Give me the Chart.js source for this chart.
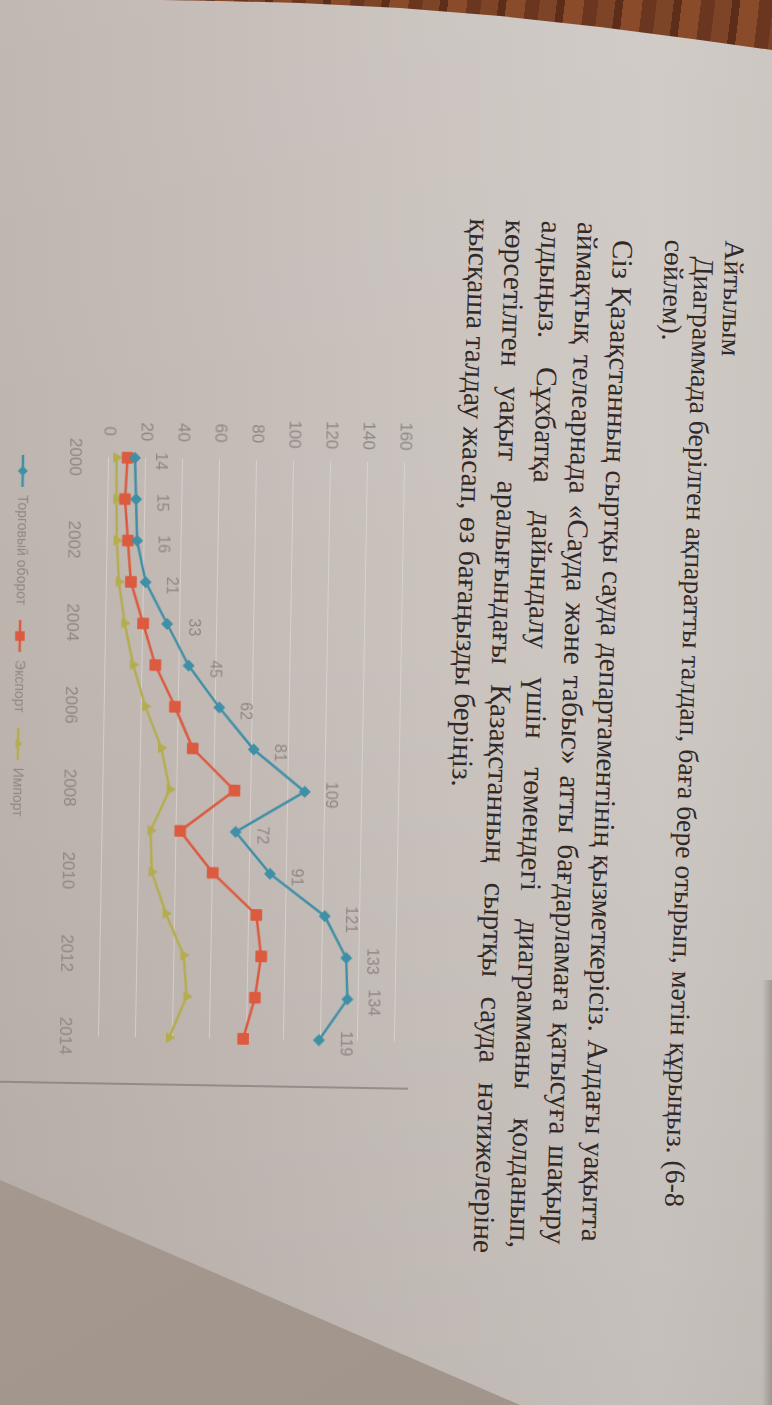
<!DOCTYPE html>
<html>
<head>
<meta charset="utf-8">
<script src="https://cdn.jsdelivr.net/npm/chart.js@4.4.1/dist/chart.umd.min.js"></script>
<style>
html,body{margin:0;padding:0;}
body{width:772px;height:1405px;overflow:hidden;position:relative;
  background:
    linear-gradient(180deg, rgba(255,255,255,0.05) 0%, rgba(0,0,0,0) 45%, rgba(0,0,0,0.05) 100%),
    linear-gradient(90deg,#bdb4ae 0%,#c4bbb6 30%,#cac3be 60%,#cfc9c5 85%,#cac4bf 100%);}
#wood{position:absolute;left:0;top:0;width:772px;height:60px;
  background:repeating-linear-gradient(97deg,#6a3620 0 14px,#7e4427 14px 31px,#5c2e1a 31px 39px,#8a4b2b 39px 58px);
  clip-path:polygon(160px 0,772px 0,772px 50px,700px 40px,600px 27px,500px 16px,400px 8px,300px 3px,220px 1px);}
#shadow{position:absolute;left:0;top:0;width:772px;height:1405px;
  background:linear-gradient(150deg,#aa9e95 0%,#a0948b 100%);
  clip-path:polygon(0 1180px,520px 1405px,0 1405px);}
#redge{position:absolute;left:762px;top:980px;width:10px;height:425px;
  background:linear-gradient(90deg,rgba(0,0,0,0),rgba(90,80,75,0.35));}
#text{position:absolute;left:746px;top:222px;width:1060px;height:300px;
  transform-origin:0 0;transform:rotate(91.8deg);
  font-family:"Liberation Serif","DejaVu Serif",serif;color:#302927;}
.ln{position:absolute;white-space:nowrap;}
.j{white-space:normal;text-align:justify;text-align-last:justify;}
#chartBox{position:absolute;left:428px;top:405px;width:684px;height:421px;
  transform-origin:0 0;transform:rotate(91deg);}
#frame{position:absolute;left:683px;top:8px;width:1.5px;height:418px;background:rgba(115,105,99,0.55);}
</style>
</head>
<body>
<div id="wood"></div>
<div id="shadow"></div>
<div id="redge"></div>
<div id="text"></div>
<div id="chartBox"><canvas id="c" width="684" height="421"></canvas><div id="frame"></div></div>
<script>
// ---- data ----
const years = ['2000','2001','2002','2003','2004','2005','2006','2007','2008','2009','2010','2011','2012','2013','2014'];
const turnover = [14, 15, 16, 21, 33, 45, 62, 81, 109, 72, 91, 121, 133, 134, 119];
const exportVals = [10, 9, 11, 13, 20, 27, 38, 48, 71, 42, 60, 84, 87, 84, 78];
const importVals = [4, 4.5, 5, 6.5, 10, 15, 22, 31, 36, 26, 27, 35, 45, 47, 38];
const seriesNames = ['Торговый оборот', 'Экспорт', 'Импорт'];
const yTicks = [0, 20, 40, 60, 80, 100, 120, 140, 160];

const textLines = [
  {t:'Айтылым', u:19, vc:11, lh:30, grp:1},
  {t:'Диаграммада берілген ақпаратты талдап, баға бере отырып, мәтін құрыңыз. (6-8', u:36, vc:41, lh:30, grp:1, fit:951},
  {t:'сөйлем).', u:20, vc:71, lh:30, grp:1},
  {t:'Сіз Қазақстанның сыртқы сауда департаментінің қызметкерісіз. Алдағы уақытта', u:5, vc:122, lh:36, grp:2, w:1019, indent:17},
  {t:'аймақтық телеарнада «Сауда және табыс» атты бағдарламаға қатысуға шақыру', u:5, vc:158, lh:36, grp:2, w:1023},
  {t:'алдыңыз. Сұхбатқа дайындалу үшін төмендегі диаграмманы қолданып,', u:5, vc:194, lh:36, grp:2, w:1028},
  {t:'көрсетілген уақыт аралығындағы Қазақстанның сыртқы сауда нәтижелеріне', u:5, vc:230, lh:36, grp:2, w:1034},
  {t:'қысқаша талдау жасап, өз бағаңызды беріңіз.', u:5, vc:266, lh:36, grp:2, fit:569}
];

// ---- text block ----
(function(){
  const mc = document.createElement('canvas').getContext('2d');
  const fam = '"Liberation Serif","DejaVu Serif",serif';
  function w(text, size){ mc.font = size + 'px ' + fam; return mc.measureText(text).width; }
  const sizes = {};
  textLines.forEach(l => { if (l.fit) sizes[l.grp] = 26 * l.fit / w(l.t, 26); });
  const box = document.getElementById('text');
  textLines.forEach(l => {
    const d = document.createElement('div');
    d.className = 'ln' + (l.w ? ' j' : '');
    let s = sizes[l.grp];
    if (l.w) {
      const nat = w(l.t, s) + (l.indent || 0);
      if (nat > l.w - 4) s = s * (l.w - 4) / nat;
      d.style.width = l.w + 'px';
      if (l.indent) d.style.textIndent = l.indent + 'px';
    }
    d.style.fontSize = s.toFixed(2) + 'px';
    d.style.left = l.u + 'px';
    d.style.top = (l.vc - l.lh / 2) + 'px';
    d.style.lineHeight = l.lh + 'px';
    d.style.height = l.lh + 'px';
    d.textContent = l.t;
    box.appendChild(d);
  });
})();

// ---- chart ----
const colors = ['#3f8fa6', '#dc5a3f', '#b4ad4f'];
const markers = ['rectRot', 'rect', 'triangle'];
const radii = [5.5, 7.5, 5.5];
const labelColor = '#8f8782';
const fontFam = '"Liberation Sans", Arial, sans-serif';

function makeIcon(i){
  const c = document.createElement('canvas');
  c.width = 34; c.height = 16;
  const g = c.getContext('2d');
  g.strokeStyle = colors[i]; g.fillStyle = colors[i]; g.lineWidth = 2.5;
  g.beginPath(); g.moveTo(1, 8); g.lineTo(33, 8); g.stroke();
  const x = 17, y = 8, r = radii[i] * 0.9;
  g.beginPath();
  if (markers[i] === 'rectRot') { g.moveTo(x, y - r); g.lineTo(x + r, y); g.lineTo(x, y + r); g.lineTo(x - r, y); }
  else if (markers[i] === 'rect') { const s = r * Math.SQRT1_2; g.rect(x - s, y - s, 2 * s, 2 * s); }
  else { g.moveTo(x, y - r); g.lineTo(x + r * 0.87, y + r * 0.5); g.lineTo(x - r * 0.87, y + r * 0.5); }
  g.closePath(); g.fill();
  return c;
}
const icons = [0, 1, 2].map(makeIcon);

const valueLabels = {
  id: 'valueLabels',
  afterDatasetsDraw(chart){
    const meta = chart.getDatasetMeta(0);
    const ctx = chart.ctx;
    ctx.save();
    ctx.font = '16px ' + fontFam;
    ctx.fillStyle = labelColor;
    ctx.textAlign = 'center';
    ctx.textBaseline = 'middle';
    meta.data.forEach((pt, i) => ctx.fillText(String(turnover[i]), pt.x + 3, pt.y - 26));
    ctx.restore();
  }
};

const legendShift = {
  id: 'legendShift',
  afterLayout(chart){
    if (chart.legend) chart.legend.left = chart.chartArea.left - 16;
  }
};

function ds(i, data){
  return {
    label: seriesNames[i], data: data,
    borderColor: colors[i], backgroundColor: colors[i],
    borderWidth: 2.5, tension: 0,
    pointStyle: markers[i], pointRadius: radii[i], pointHoverRadius: radii[i],
    pointBackgroundColor: colors[i], pointBorderColor: colors[i], pointBorderWidth: 1
  };
}

new Chart(document.getElementById('c'), {
  type: 'line',
  data: { labels: years, datasets: [ds(0, turnover), ds(1, exportVals), ds(2, importVals)] },
  options: {
    responsive: false, animation: false,
    layout: { padding: { top: 19, right: 47, left: 0, bottom: 0 } },
    plugins: {
      tooltip: { enabled: false },
      legend: {
        position: 'bottom', align: 'start', fullSize: false,
        labels: {
          usePointStyle: true, pointStyleWidth: 34, padding: 14,
          color: labelColor, font: { family: fontFam, size: 14 },
          generateLabels(chart){
            const items = Chart.defaults.plugins.legend.labels.generateLabels(chart);
            items.forEach((it, i) => { it.pointStyle = icons[i]; });
            return items;
          }
        }
      }
    },
    scales: {
      x: {
        type: 'category',
        grid: { display: false, drawTicks: false },
        border: { display: false },
        ticks: {
          autoSkip: false, maxRotation: 0, padding: 24,
          color: labelColor, font: { family: fontFam, size: 17 },
          callback(v, i){ return i % 2 === 0 ? years[i] : ''; }
        },
        afterFit(s){ s.height = 65; }
      },
      y: {
        min: 0, max: 160,
        grid: { color: 'rgba(226,221,217,0.6)', lineWidth: 1, drawTicks: false },
        border: { display: false },
        afterBuildTicks(s){ s.ticks = yTicks.map(v => ({ value: v })); },
        ticks: {
          crossAlign: 'center', padding: 12,
          color: labelColor, font: { family: fontFam, size: 17 }
        },
        afterFit(s){ s.width = 58; }
      }
    }
  },
  plugins: [valueLabels, legendShift]
});
</script>
</body>
</html>
